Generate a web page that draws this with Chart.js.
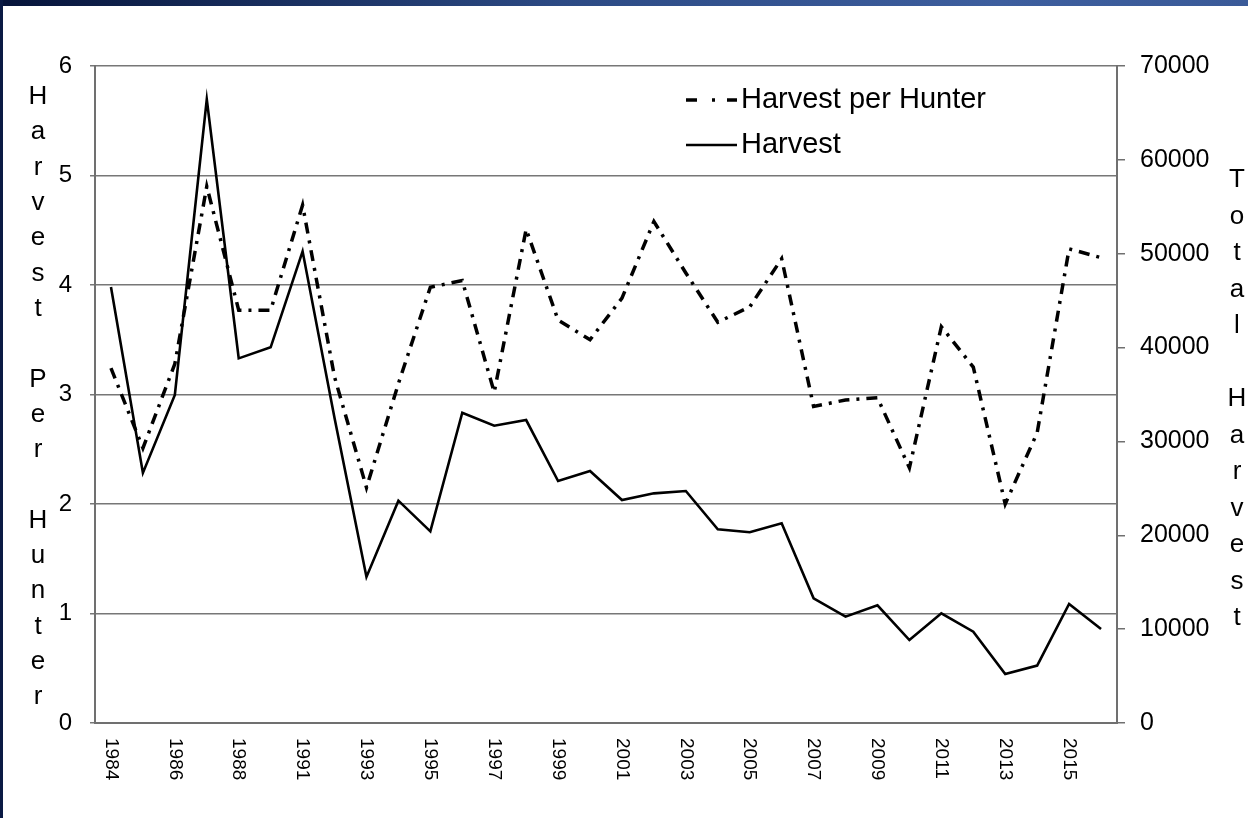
<!DOCTYPE html>
<html>
<head>
<meta charset="utf-8">
<script src="https://cdn.jsdelivr.net/npm/chart.js@4"></script>
<style>
  body { margin: 0; background: #fff; }
  #wrap { width: 1248px; height: 818px; }
</style>
</head>
<body>
<div id="wrap"><canvas id="grafica" width="1248" height="818"></canvas></div>
<script>
// Años (falta 1990 en la serie original)
const years = ['1984','1985','1986','1987','1988','1989','1991','1992','1993','1994',
  '1995','1996','1997','1998','1999','2000','2001','2002','2003','2004','2005','2006',
  '2007','2008','2009','2010','2011','2012','2013','2014','2015','2016'];

// Cosecha por cazador (eje izquierdo)
const perHunter = [3.24, 2.51, 3.28, 4.90, 3.77, 3.77, 4.73, 3.16, 2.15, 3.10,
  3.98, 4.04, 3.02, 4.51, 3.68, 3.50, 3.88, 4.58, 4.11, 3.66, 3.80, 4.24,
  2.89, 2.95, 2.97, 2.33, 3.62, 3.25, 2.00, 2.65, 4.33, 4.25];

// Cosecha total (eje derecho)
const harvest = [46450, 26650, 34950, 66450, 38850, 40030, 50250, 32500, 15560, 23690,
  20420, 33060, 31670, 32280, 25780, 26850, 23760, 24470, 24720, 20640, 20320, 21280,
  13290, 11330, 12540, 8840, 11690, 9730, 5220, 6120, 12680, 10010];

const seriesNames = ['Harvest per Hunter', 'Harvest'];
const leftTitle = 'Harvest Per Hunter';
const rightTitle = 'Total Harvest';

const FONT = "'Liberation Sans', Arial, sans-serif";
const dashLine = [11, 7, 3, 7];

// Marco: barra azul arriba y franja a la izquierda
const framePlugin = {
  id: 'frame',
  beforeDraw(chart) {
    const ctx = chart.ctx;
    ctx.save();
    ctx.fillStyle = '#fff';
    ctx.fillRect(0, 0, chart.width, chart.height);
    const g = ctx.createLinearGradient(0, 0, chart.width, 0);
    g.addColorStop(0, '#06143a');
    g.addColorStop(0.45, '#2c4a84');
    g.addColorStop(0.8, '#3d5e9e');
    g.addColorStop(1, '#3a5a98');
    ctx.fillStyle = g;
    ctx.fillRect(0, 0, chart.width, 6);
    ctx.fillStyle = '#0a1a44';
    ctx.fillRect(0, 0, 3, chart.height);
    ctx.restore();
  }
};

// Títulos apilados, etiquetas del eje X y leyenda
const extrasPlugin = {
  id: 'extras',
  afterDraw(chart) {
    const ctx = chart.ctx;
    const ca = chart.chartArea;
    const xs = chart.scales.x;
    ctx.save();
    ctx.fillStyle = '#000';

    // títulos verticales letra por letra
    ctx.font = '26px ' + FONT;
    ctx.textAlign = 'center';
    ctx.textBaseline = 'middle';
    leftTitle.split('').forEach((ch, i) => {
      if (ch !== ' ') ctx.fillText(ch, 38, 97 + i * 35.3);
    });
    rightTitle.split('').forEach((ch, i) => {
      if (ch !== ' ') ctx.fillText(ch, 1237, 180 + i * 36.5);
    });

    // etiquetas de años giradas (cada dos)
    ctx.font = '19px ' + FONT;
    ctx.textAlign = 'left';
    years.forEach((y, i) => {
      if (i % 2 !== 0) return;
      const x = xs.getPixelForValue(i);
      ctx.save();
      ctx.translate(x, ca.bottom + 15);
      ctx.rotate(Math.PI / 2);
      ctx.fillText(y, 0, 0);
      ctx.restore();
    });

    // leyenda
    const lx = ca.right - 431;
    const rows = [ca.top + 34, ca.top + 79];
    ctx.strokeStyle = '#000';
    ctx.lineWidth = 3.5;
    ctx.setLineDash([11, 15, 3, 12]);
    ctx.beginPath();
    ctx.moveTo(lx, rows[0]);
    ctx.lineTo(lx + 51, rows[0]);
    ctx.stroke();
    ctx.setLineDash([]);
    ctx.lineWidth = 2.6;
    ctx.beginPath();
    ctx.moveTo(lx, rows[1]);
    ctx.lineTo(lx + 51, rows[1]);
    ctx.stroke();
    ctx.font = '29px ' + FONT;
    ctx.fillText(seriesNames[0], lx + 55, rows[0]);
    ctx.fillText(seriesNames[1], lx + 55, rows[1]);
    ctx.restore();
  }
};

const chart = new Chart(document.getElementById('grafica').getContext('2d'), {
  type: 'line',
  data: {
    labels: years,
    datasets: [{
      label: seriesNames[0],
      data: perHunter,
      yAxisID: 'y',
      borderColor: '#000',
      borderWidth: 3.5,
      borderDash: dashLine,
      borderCapStyle: 'butt',
      pointRadius: 0,
      tension: 0,
      fill: false
    }, {
      label: seriesNames[1],
      data: harvest,
      yAxisID: 'y1',
      borderColor: '#000',
      borderWidth: 2.6,
      pointRadius: 0,
      tension: 0,
      fill: false
    }]
  },
  options: {
    responsive: false,
    animation: false,
    devicePixelRatio: 1,
    layout: { padding: { top: 66, left: 0, right: 0, bottom: 0 } },
    plugins: {
      legend: { display: false },
      tooltip: { enabled: false }
    },
    scales: {
      x: {
        offset: true,
        grid: { display: false },
        border: { display: true, color: '#707070', width: 2 },
        ticks: { display: false },
        afterFit: s => { s.height = 95; }
      },
      y: {
        position: 'left',
        min: 0,
        max: 6,
        ticks: { stepSize: 1, color: '#000', padding: 18, font: { family: FONT, size: 24 } },
        grid: { color: '#777', lineWidth: 1.5, tickLength: 5 },
        border: { color: '#707070', width: 2 },
        afterFit: s => { s.width = 95; }
      },
      y1: {
        position: 'right',
        min: 0,
        max: 70000,
        ticks: {
          stepSize: 10000, color: '#000', padding: 15,
          font: { family: FONT, size: 25 },
          callback: v => String(v)
        },
        grid: { drawOnChartArea: false, color: '#707070', lineWidth: 1.5, tickLength: 8 },
        border: { color: '#707070', width: 2 },
        afterFit: s => { s.width = 131; }
      }
    }
  },
  plugins: [framePlugin, extrasPlugin]
});
</script>
</body>
</html>
